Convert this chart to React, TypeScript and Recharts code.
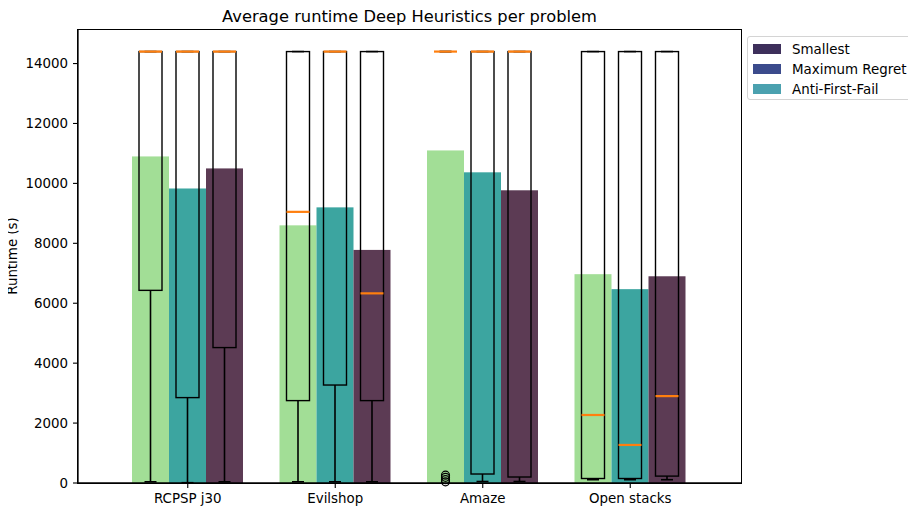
import React from 'react';
import { ComposedChart, Bar, XAxis, YAxis } from 'recharts';

const categories = ['RCPSP j30', 'Evilshop', 'Amaze', 'Open stacks'];
const yTicks = [0, 2000, 4000, 6000, 8000, 10000, 12000, 14000];

// Mean runtime bars (three heuristics)
const smallestMean = [10900, 8600, 11100, 6970];
const maxRegretMean = [9830, 9200, 10370, 6470];
const antiFirstFailMean = [10500, 7780, 9770, 6900];

// Box plot statistics
const smallestQ1 = [6430, 2750, 14400, 150];
const smallestMedian = [14400, 9050, 14400, 2270];
const smallestQ3 = [14400, 14400, 14400, 14400];
const smallestLow = [40, 40, 14400, 110];
const smallestHigh = [14400, 14400, 14400, 14400];
const smallestOutliers = [[], [], [40, 110, 190, 260], []];

const maxRegretQ1 = [2850, 3270, 300, 150];
const maxRegretMedian = [14400, 14400, 14400, 1270];
const maxRegretQ3 = [14400, 14400, 14400, 14400];
const maxRegretLow = [10, 40, 50, 110];
const maxRegretHigh = [14400, 14400, 14400, 14400];
const maxRegretOutliers = [[], [], [], []];

const antiQ1 = [4520, 2750, 200, 230];
const antiMedian = [14400, 6330, 14400, 2900];
const antiQ3 = [14400, 14400, 14400, 14400];
const antiLow = [40, 40, 50, 110];
const antiHigh = [14400, 14400, 14400, 14400];
const antiOutliers = [[], [], [], []];

const legendNames = ['Smallest', 'Maximum Regret', 'Anti-First-Fail'];
const legendColors = ['#3d2f5b', '#3b4b8c', '#4ba1af'];
const barColors = ['#a2de96', '#3ca5a0', '#5c3b54'];

const data = categories.map((name, i) => ({
  name,
  smallest: smallestMean[i],
  maxRegret: maxRegretMean[i],
  antiFirstFail: antiFirstFailMean[i],
}));

const FONT = 'DejaVu Sans, sans-serif';
const FS = 13.4;

type Stats = {
  q1: number[];
  med: number[];
  q3: number[];
  lo: number[];
  hi: number[];
  out: number[][];
};

const makeShape = (key: string, color: string, s: Stats) => (props: any) => {
  const { x, y, width, height, payload } = props;
  const i = categories.indexOf(payload.name);
  const v = payload[key];
  const base = y + height;
  const k = v ? height / v : 0;
  const py = (val: number) => base - val * k;
  const cx = x + width / 2;
  const bw = 23;
  const cw = 12;
  const q1 = py(s.q1[i]);
  const q3 = py(s.q3[i]);
  const lo = py(s.lo[i]);
  const hi = py(s.hi[i]);
  const md = py(s.med[i]);
  return (
    <g>
      <rect x={x} y={y} width={width} height={height} fill={color} />
      <line x1={cx} x2={cx} y1={q1} y2={lo} stroke="#000" strokeWidth={1.6} />
      <line x1={cx - cw / 2} x2={cx + cw / 2} y1={lo} y2={lo} stroke="#000" strokeWidth={1.6} />
      <line x1={cx} x2={cx} y1={q3} y2={hi} stroke="#000" strokeWidth={1.6} />
      <line x1={cx - cw / 2} x2={cx + cw / 2} y1={hi} y2={hi} stroke="#000" strokeWidth={1.6} />
      <rect x={cx - bw / 2} y={q3} width={bw} height={Math.max(0, q1 - q3)} fill="none" stroke="#000" strokeWidth={1.4} />
      {s.out[i].map((o, j) => (
        <circle key={j} cx={cx} cy={py(o)} r={4} fill="none" stroke="#000" strokeWidth={1.2} />
      ))}
      <line x1={cx - bw / 2} x2={cx + bw / 2} y1={md} y2={md} stroke="#ff7f0e" strokeWidth={2.2} />
    </g>
  );
};

const smallestShape = makeShape('smallest', barColors[0], {
  q1: smallestQ1, med: smallestMedian, q3: smallestQ3, lo: smallestLow, hi: smallestHigh, out: smallestOutliers,
});
const maxRegretShape = makeShape('maxRegret', barColors[1], {
  q1: maxRegretQ1, med: maxRegretMedian, q3: maxRegretQ3, lo: maxRegretLow, hi: maxRegretHigh, out: maxRegretOutliers,
});
const antiShape = makeShape('antiFirstFail', barColors[2], {
  q1: antiQ1, med: antiMedian, q3: antiQ3, lo: antiLow, hi: antiHigh, out: antiOutliers,
});

const tickStyle = { fontFamily: FONT, fontSize: FS, fill: '#000' };

export default function App() {
  return (
    <div style={{ position: 'relative', width: 900, height: 503, fontFamily: FONT }}>
      <ComposedChart
        width={900}
        height={503}
        data={data}
        margin={{ top: 22, right: 167, left: 0, bottom: 8 }}
        barGap={0}
        barSize={37}
      >
        <XAxis
          dataKey="name"
          interval={0}
          padding={{ left: 36, right: 37 }}
          height={20}
          tickSize={5}
          tickMargin={5}
          tick={tickStyle}
          axisLine={{ stroke: '#000', strokeWidth: 1.3 }}
          tickLine={{ stroke: '#000', strokeWidth: 1.1 }}
        />
        <YAxis
          type="number"
          domain={[0, 15120]}
          ticks={yTicks}
          width={70}
          tickSize={5}
          tickMargin={5}
          tick={tickStyle}
          axisLine={{ stroke: '#000', strokeWidth: 1.3 }}
          tickLine={{ stroke: '#000', strokeWidth: 1.1 }}
        />
        <Bar dataKey="smallest" fill={barColors[0]} isAnimationActive={false} shape={smallestShape} />
        <Bar dataKey="maxRegret" fill={barColors[1]} isAnimationActive={false} shape={maxRegretShape} />
        <Bar dataKey="antiFirstFail" fill={barColors[2]} isAnimationActive={false} shape={antiShape} />
      </ComposedChart>
      {/* plot frame (top/right spines) */}
      <div
        style={{
          position: 'absolute',
          left: 69.35,
          top: 21.35,
          width: 664.3,
          height: 454.3,
          border: '1.3px solid #000',
          boxSizing: 'border-box',
          pointerEvents: 'none',
        }}
      />
      {/* title */}
      <div
        style={{
          position: 'absolute',
          left: 0,
          width: 803,
          top: -1,
          height: 20,
          lineHeight: '20px',
          textAlign: 'center',
          fontSize: 16.3,
          color: '#000',
          whiteSpace: 'nowrap',
        }}
      >
        Average runtime Deep Heuristics per problem
      </div>
      {/* y axis label */}
      <div
        style={{
          position: 'absolute',
          left: 4.5 - 60,
          top: 248 - 9,
          width: 120,
          height: 18,
          lineHeight: '18px',
          textAlign: 'center',
          fontSize: FS,
          color: '#000',
          transform: 'rotate(-90deg)',
          whiteSpace: 'nowrap',
        }}
      >
        Runtime (s)
      </div>
      {/* legend */}
      <div
        style={{
          position: 'absolute',
          left: 739,
          top: 28,
          width: 166,
          height: 64,
          border: '1px solid #d4d4d4',
          borderRadius: 3,
          boxSizing: 'border-box',
          background: '#fff',
        }}
      >
        {legendNames.map((n, i) => (
          <div
            key={n}
            style={{ position: 'absolute', left: 5, top: 2 + i * 20, height: 20, display: 'flex', alignItems: 'center' }}
          >
            <span style={{ display: 'inline-block', width: 28, height: 10, background: legendColors[i] }} />
            <span style={{ marginLeft: 11, fontSize: FS, color: '#000', whiteSpace: 'nowrap' }}>{n}</span>
          </div>
        ))}
      </div>
    </div>
  );
}
